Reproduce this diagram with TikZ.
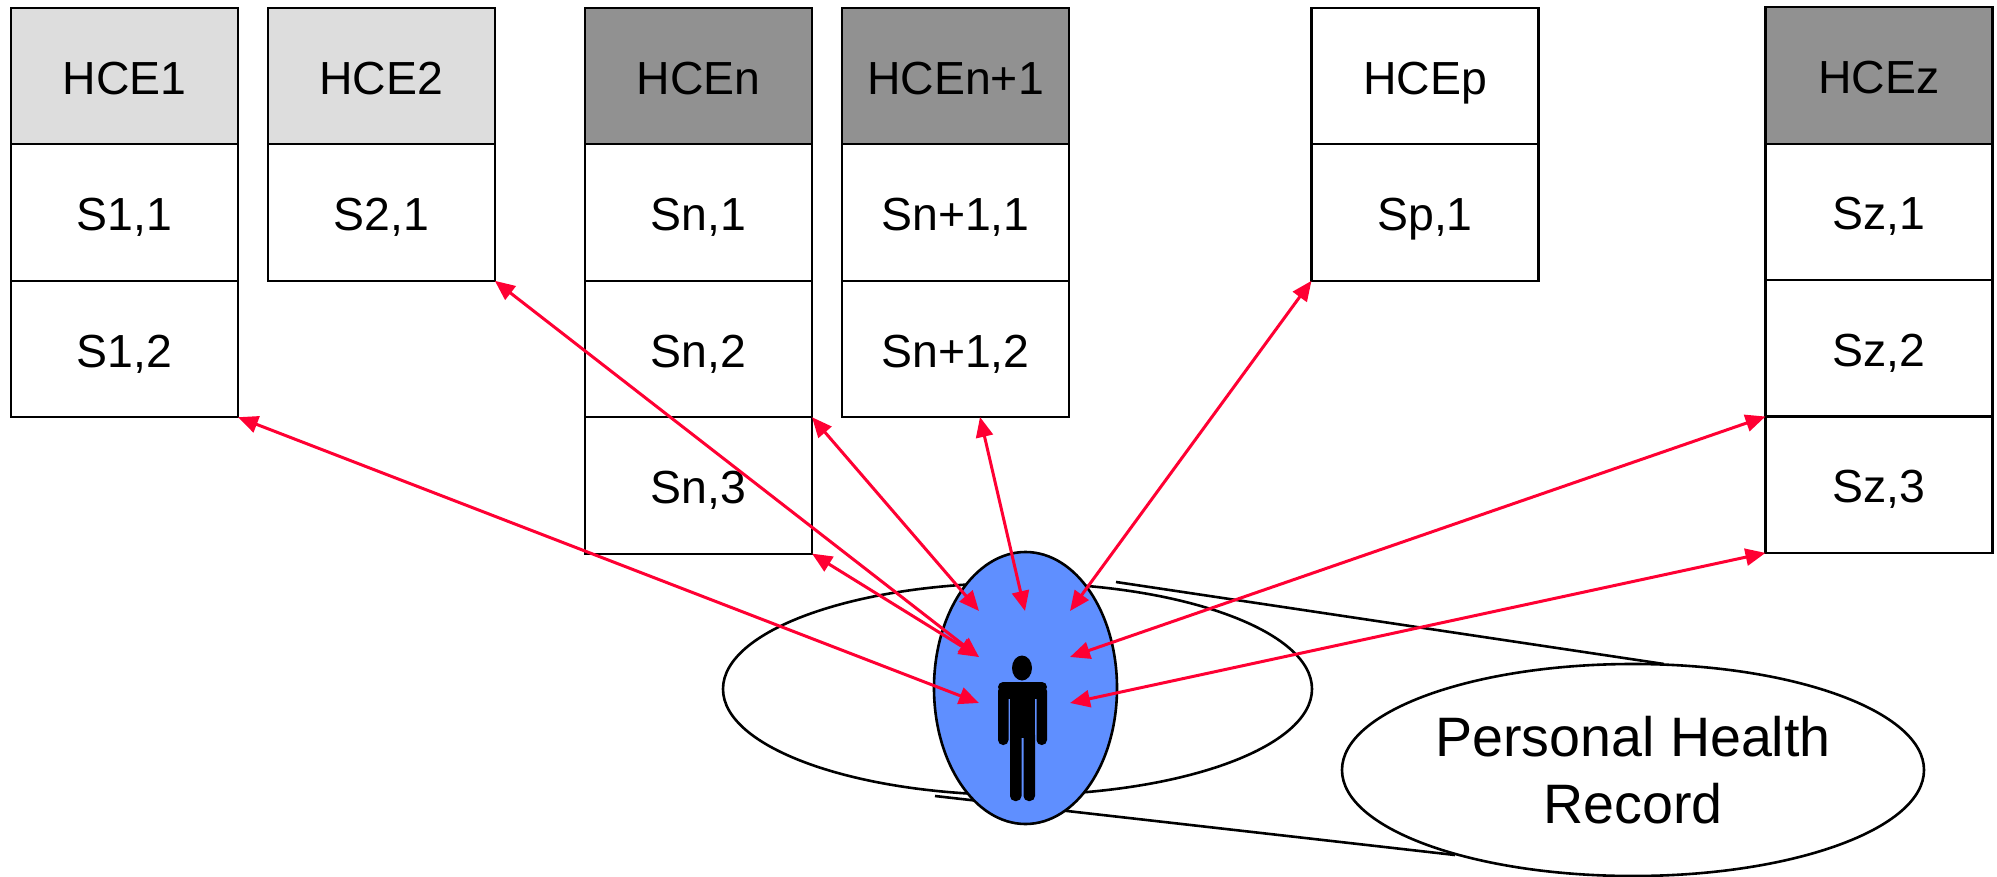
\documentclass[tikz,border=0pt]{standalone}
\usepackage{fontspec}
\setmainfont{Liberation Sans}
\usetikzlibrary{positioning,shapes.geometric,arrows.meta}
\definecolor{hcelight}{HTML}{DDDDDD}
\definecolor{hcedark}{HTML}{919191}
\definecolor{personblue}{HTML}{5F8FFF}
\definecolor{linkred}{HTML}{FF0033}

\begin{document}
\begin{tikzpicture}[x=.5pt,y=-.5pt,
box/.style={draw,line width=1.1pt,rectangle,outer sep=0pt,minimum width=113.5pt,minimum height=68.2pt,
    text height=18pt,text depth=0pt,font=\fontsize{23.2}{27}\selectfont},
light/.style={box,fill=hcelight},
dark/.style={box,fill=hcedark},
oval/.style={draw,line width=1.3pt,ellipse,inner sep=0pt,outer sep=0pt},
link/.style={draw=linkred,line width=1.5pt,{Triangle[length=10pt,width=8.5pt]}-{Triangle[length=10pt,width=8.5pt]}}]
\useasboundingbox (0,0) rectangle (1997,877);

\node (record) [oval,minimum width=294.5pt,minimum height=106pt] at (1017.5,689) {};
\coordinate (tailtop) at (1116,582);
\coordinate (tailbottom) at (935,796);
\coordinate (phrtop) at (1664,664);
\coordinate (phrbottom) at (1455,855);
\draw [line width=1.3pt] (tailtop) -- (phrtop);
\draw [line width=1.3pt] (tailbottom) -- (phrbottom);
\node (phr) [oval,fill=white,minimum width=291pt,minimum height=106pt,align=center,
    font=\fontsize{27.8}{33.5}\selectfont] at (1633,770) {Personal Health\\Record};
\node (patient) [oval,fill=personblue,minimum width=91.5pt,minimum height=136pt] at (1025.5,688) {};

% person
\node (head) [ellipse,fill=black,inner sep=0pt,minimum width=10pt,minimum height=12.5pt] at (1022,668) {};
\fill [black,rounded corners=2.5pt] (998,682) -- (1047,682) -- (1047,692) -- (998,692) -- cycle;
\fill [black] (1010,686) rectangle (1035,738);
\fill [black,rounded corners=2.5pt] (998,686) rectangle (1008.5,745);
\fill [black,rounded corners=2.5pt] (1036.5,686) rectangle (1047,745);
\fill [black,rounded corners=2.5pt] (1010,730) rectangle (1021.5,801);
\fill [black,rounded corners=2.5pt] (1023.5,730) rectangle (1035,801);
\fill [black] (1008,686) rectangle (1037,699);

% columns
\node (hce1) [light] at (124.5,76.2) {HCE1};
\node (s11) [box,below=0pt of hce1] {S1,1};
\node (s12) [box,below=0pt of s11] {S1,2};

\node (hce2) [light] at (381.3,76.2) {HCE2};
\node (s21) [box,below=0pt of hce2] {S2,1};

\node (hcen) [dark] at (698.5,76.2) {HCEn};
\node (sn1) [box,below=0pt of hcen] {Sn,1};
\node (sn2) [box,below=0pt of sn1] {Sn,2};
\node (sn3) [box,below=0pt of sn2] {Sn,3};

\node (hcem) [dark] at (955.5,76.2) {HCEn+1};
\node (sm1) [box,below=0pt of hcem] {Sn+1,1};
\node (sm2) [box,below=0pt of sm1] {Sn+1,2};

\node (hcep) [box] at (1425,76.2) {HCEp};
\node (sp1) [box,below=0pt of hcep] {Sp,1};

\node (hcez) [dark] at (1879,75.5) {HCEz};
\node (sz1) [box,below=0pt of hcez] {Sz,1};
\node (sz2) [box,below=0pt of sz1] {Sz,2};
\node (sz3) [box,below=0pt of sz2] {Sz,3};

% arrow ends round the person
\coordinate (upleft) at (979,611);
\coordinate (upmid) at (1025,611);
\coordinate (upright) at (1070,611);
\coordinate (midleft) at (979,657);
\coordinate (midright) at (1070,657);
\coordinate (lowleft) at (979,703);
\coordinate (lowright) at (1070,703);
\coordinate (smfoot) at (980,417);

\draw [link] (s12.south east) -- (lowleft);
\draw [link] (s21.south east) -- (midleft);
\draw [link] (sn3.south east) -- (midleft);
\draw [link] (sn2.south east) -- (upleft);
\draw [link] (smfoot) -- (upmid);
\draw [link] (sp1.south west) -- (upright);
\draw [link] (sz2.south west) -- (midright);
\draw [link] (sz3.south west) -- (lowright);
\end{tikzpicture}
\end{document}
